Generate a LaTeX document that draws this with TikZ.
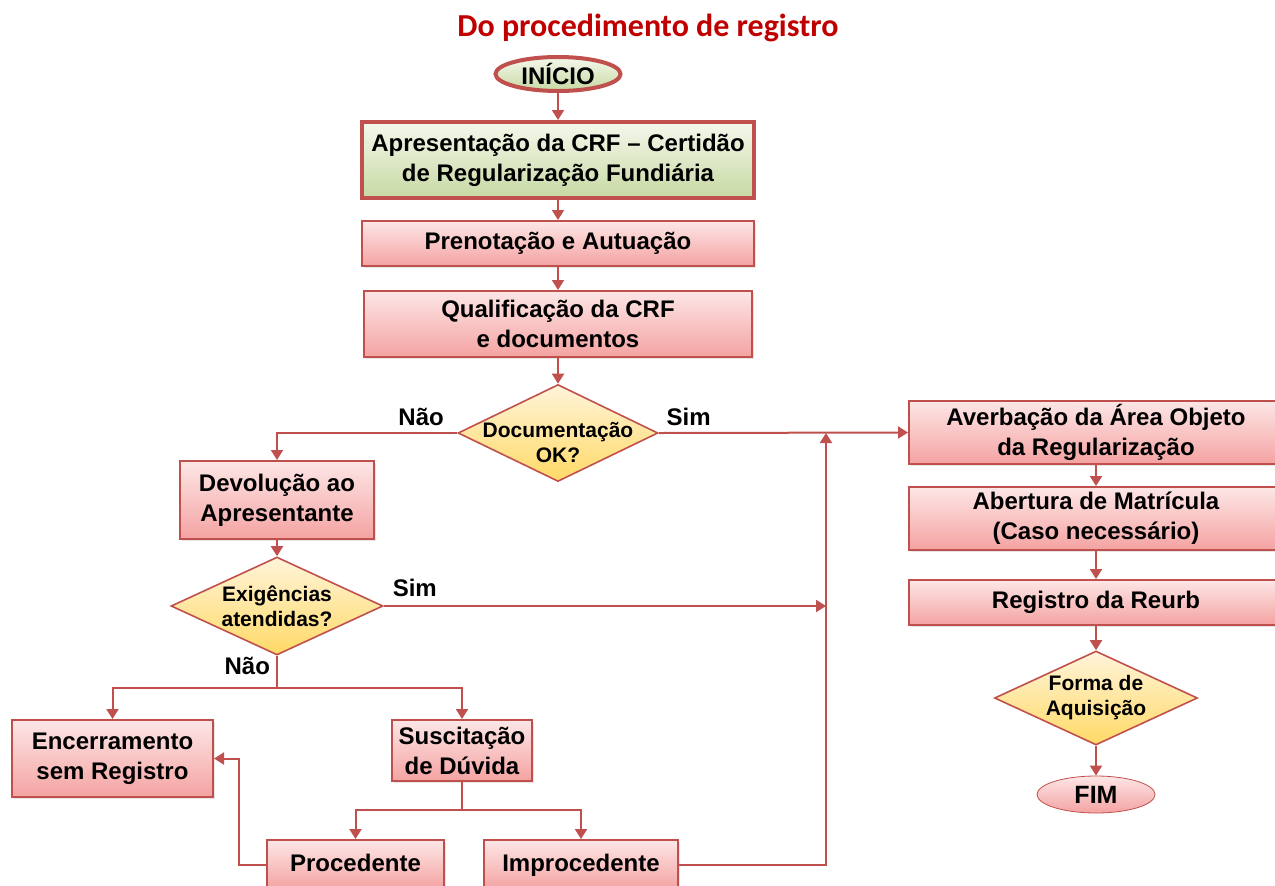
\documentclass[tikz,border=0pt]{standalone}
\usepackage{fontspec}
\setmainfont{Liberation Sans}
\newfontfamily\titlefont{Carlito}
\usetikzlibrary{shapes.geometric,arrows.meta,shadows,scopes}

\definecolor{linered}{HTML}{C0504D}
\definecolor{titlered}{HTML}{C00000}
\definecolor{pinktop}{HTML}{FDE6E6}
\definecolor{pinkbot}{HTML}{F4A3A2}
\definecolor{yeltop}{HTML}{FFF4DA}
\definecolor{yelbot}{HTML}{FFD966}
\definecolor{greentop}{HTML}{F4F8EC}
\definecolor{greenbot}{HTML}{C7D9A3}

\tikzset{
	procbox/.style={rectangle, draw=linered, line width=1pt, top color=pinktop, bottom color=pinkbot,
		font=\bfseries\fontsize{12}{15}\selectfont, align=center, inner sep=0pt,
		drop shadow={opacity=.2, shadow xshift=1.2pt, shadow yshift=-1.2pt}},
	decbox/.style={diamond, draw=linered, line width=.8pt, top color=yeltop, bottom color=yelbot, inner sep=0pt},
	dectext/.style={font=\bfseries\fontsize{10.5}{12.5}\selectfont, align=center, inner sep=0pt},
	termnode/.style={ellipse, draw=linered, top color=pinktop, bottom color=pinkbot,
		font=\bfseries\fontsize{12.5}{14}\selectfont, inner sep=0pt},
	ans/.style={font=\bfseries\fontsize{12}{14}\selectfont, inner sep=0pt},
	wire/.style={draw=linered, line width=1pt},
	link/.style={wire, -{Triangle[width=6pt,length=5pt]}}
}

\begin{document}
\begin{tikzpicture}[x=0.5pt, y=-0.5pt]
	\useasboundingbox (0,0) rectangle (1275,885);
	\fill[white] (0,0) rectangle (1275,885);
	\clip (0,0) rectangle (1275,885);

	\node[font=\titlefont\bfseries\fontsize{16}{19}\selectfont, text=titlered] (titulo) at (648,28) {Do procedimento de registro};

	% coluna central
	\node[termnode, top color=greentop, bottom color=greenbot, line width=2pt,
		minimum width=62.5pt, minimum height=17pt, font=\bfseries\fontsize{12}{14}\selectfont] (inicio) at (558,74) {INÍCIO};
	{ [every node/.style=procbox]
		\node[line width=2pt, top color=greentop, bottom color=greenbot, minimum width=196pt, minimum height=38pt] (crf) at (558,160)
			{Apresentação da CRF -- Certidão\\de Regularização Fundiária};
		\node[minimum width=196pt, minimum height=22.5pt] (pren) at (558,243.5) {Prenotação e Autuação};
		\node[minimum width=194pt, minimum height=33pt] (qual) at (558,324) {Qualificação da CRF\\e documentos};
	}
	\node[decbox, minimum width=100pt, minimum height=48.5pt,
		label={[dectext, yshift=-5pt]center:Documentação\\OK?}] (doc) at (558,433) {};

	% ramo da devolucao
	{ [every node/.style=procbox]
		\node[minimum width=97pt, minimum height=39pt] (devol) at (277,500) {Devolução ao\\Apresentante};
		\node[minimum width=100.5pt, minimum height=38.5pt] (encerr) at (112.5,758.5) {Encerramento\\sem Registro};
		\node[minimum width=70pt, minimum height=30.5pt] (susc) at (462,750.5) {Suscitação\\de Dúvida};
		\node[minimum width=88.5pt, minimum height=24.5pt, text height=9pt, text depth=2.5pt] (proc) at (355.5,864.5) {Procedente};
		\node[minimum width=97pt, minimum height=24.5pt, text height=9pt, text depth=2.5pt] (improc) at (581,864.5) {Improcedente};
	}
	\node[decbox, minimum width=106pt, minimum height=49pt,
		label={[dectext]center:Exigências\\atendidas?}] (exig) at (277,606) {};

	% coluna da direita
	{ [every node/.style={procbox, minimum width=187pt}]
		\node[minimum height=31.5pt] (averb) at (1096,432.5) {Averbação da Área Objeto\\da Regularização};
		\node[minimum height=31.5pt] (abert) at (1096,518.5) {Abertura de Matrícula\\(Caso necessário)};
		\node[minimum height=22.5pt] (reg) at (1096,602.5) {Registro da Reurb};
	}
	\node[decbox, minimum width=101.5pt, minimum height=47pt,
		label={[dectext]center:Forma de\\Aquisição}] (forma) at (1096,698) {};
	\node[termnode, minimum width=59pt, minimum height=18.5pt] (fim) at (1096,794.5) {FIM};

	\coordinate (juncao) at (826,433);
	\coordinate (ramo1) at (277,688);
	\coordinate (ramo2) at (462,810);

	{ [link]
		\draw (inicio) -- (crf);
		\draw (crf) -- (pren);
		\draw (pren) -- (qual);
		\draw (qual) -- (doc);
		\draw (doc.west) -| (devol.north) node[ans, above, pos=.1, yshift=3pt] {Não};
		\draw (doc.east) -- (averb.west) node[ans, above, pos=.12, yshift=3pt] {Sim};
		\draw (devol) -- (exig);
		\draw (exig.east) -- (exig.east -| juncao) node[ans, above, pos=.07, yshift=4pt] {Sim};
		\draw (improc.east) -| (juncao);
		\draw (ramo1) -| (encerr.north);
		\draw (ramo1) -| (susc.north);
		\draw (ramo2) -| (proc.north);
		\draw (ramo2) -| (improc.north);
		\draw (proc.west) -- ++(-27,0) |- (encerr.east);

		\draw (averb) -- (abert);
		\draw (abert) -- (reg);
		\draw (reg) -- (forma);
		\draw (forma) -- (fim);
	}
	{ [wire]
		\draw (exig.south) -- (ramo1) node[ans, left, pos=.3, xshift=-3pt] {Não};
		\draw (susc.south) -- (ramo2);
	}
\end{tikzpicture}
\end{document}
